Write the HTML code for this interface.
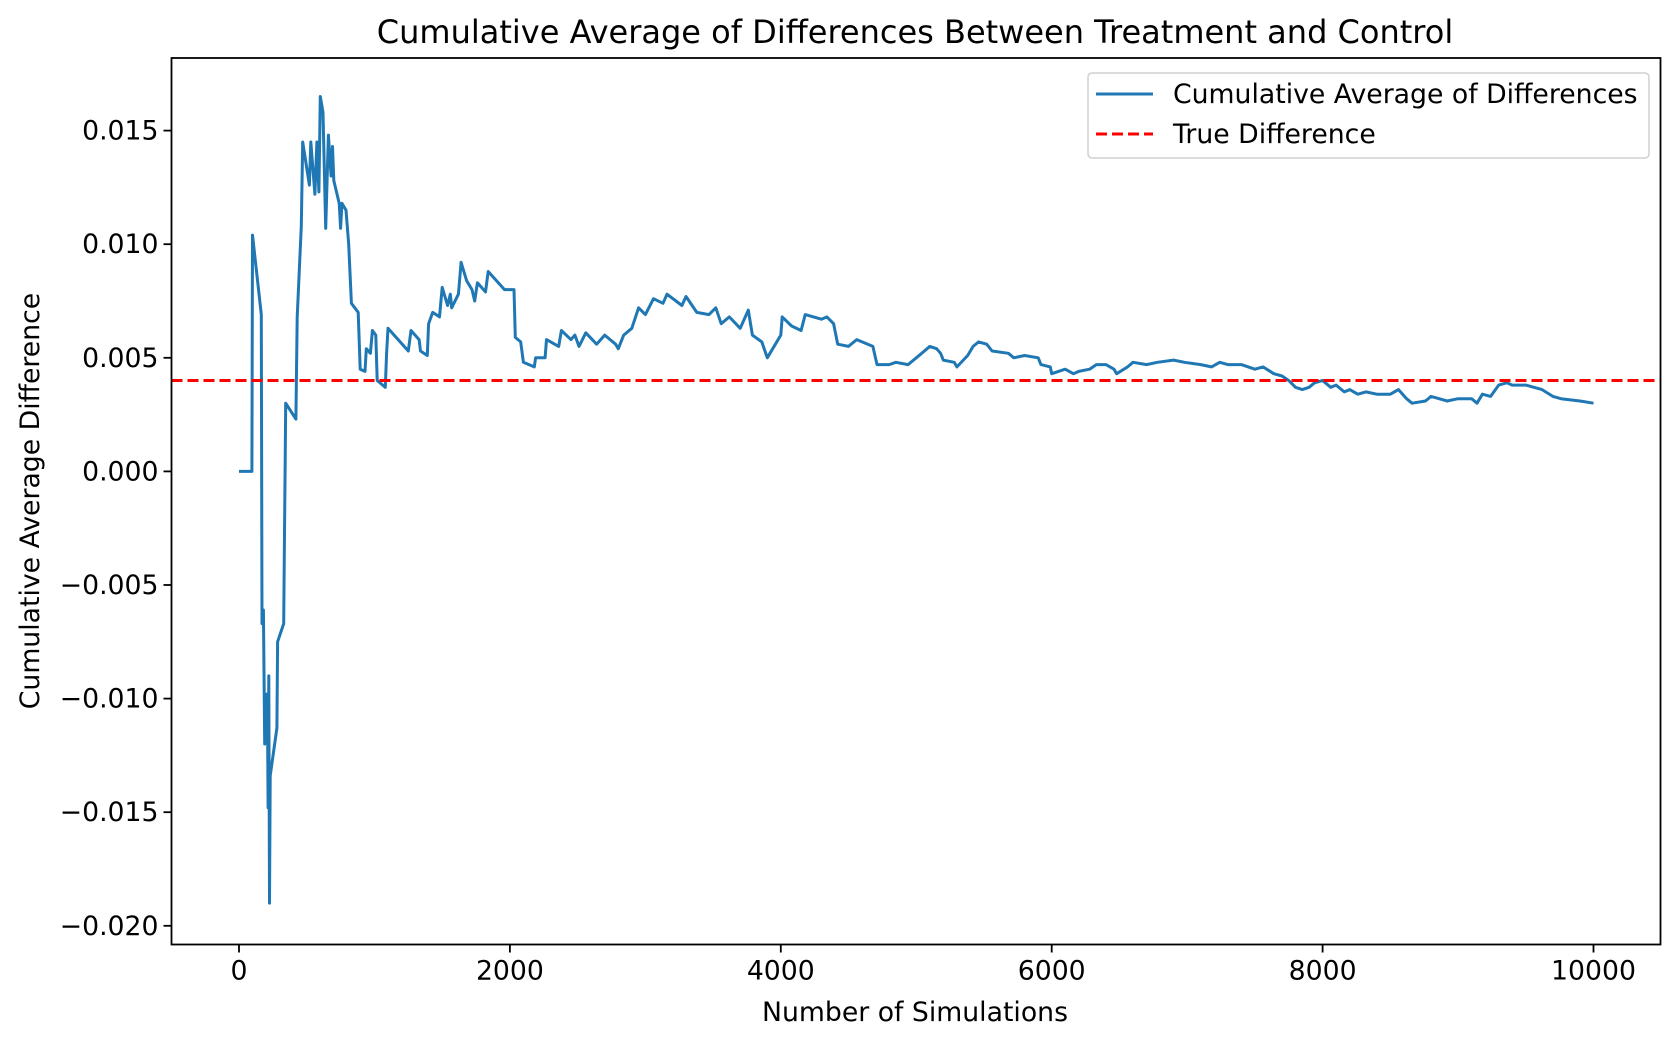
<!DOCTYPE html>
<html><head><meta charset="utf-8"><style>
html,body{margin:0;padding:0;background:#fff}
svg{display:block}
text{font-family:"DejaVu Sans","Liberation Sans",sans-serif;fill:#000}
</style></head><body>
<svg id="chart" width="1680" height="1046" viewBox="0 0 1680 1046">
<rect width="1680" height="1046" fill="#fff"/>
<g id="plot"></g>
<g id="axes"></g>
<text x="915" y="43" font-size="32" text-anchor="middle">Cumulative Average of Differences Between Treatment and Control</text>
<text x="915" y="1021" font-size="26.7" text-anchor="middle">Number of Simulations</text>
<text transform="translate(39,501) rotate(-90)" font-size="26.7" text-anchor="middle">Cumulative Average Difference</text>
<g>
<rect x="1088" y="73" width="561" height="85" rx="4" fill="#fff" stroke="#d0d0d0" stroke-width="1.5"/>
<line x1="1096" y1="94" x2="1153" y2="94" stroke="#1f77b4" stroke-width="3"/>
<text x="1173" y="103" font-size="26.7">Cumulative Average of Differences</text>
<line x1="1096" y1="134" x2="1153" y2="134" stroke="#ff0000" stroke-width="3" stroke-dasharray="11,5"/>
<text x="1173" y="143" font-size="26.7">True Difference</text>
</g>
</svg>
<script>
const xs=[0,95,100,165,170,180,190,205,210,215,220,225,230,280,285,330,335,340,345,420,430,460,470,520,530,560,575,590,600,620,640,660,680,690,700,740,750,760,790,810,830,880,895,930,940,970,985,1010,1020,1080,1090,1100,1250,1270,1330,1340,1390,1400,1430,1480,1500,1540,1560,1570,1620,1640,1680,1700,1720,1740,1760,1820,1840,1960,2030,2040,2080,2100,2180,2190,2260,2270,2360,2380,2450,2480,2510,2560,2640,2700,2780,2800,2840,2900,2950,3000,3060,3130,3160,3270,3300,3380,3470,3520,3560,3620,3700,3760,3790,3860,3900,3960,4000,4010,4080,4150,4180,4300,4340,4390,4420,4500,4560,4680,4710,4800,4850,4940,5000,5040,5100,5150,5180,5200,5280,5300,5380,5420,5460,5520,5560,5680,5720,5800,5900,5920,5990,6000,6100,6160,6200,6280,6330,6400,6460,6480,6560,6600,6700,6780,6900,6980,7100,7180,7240,7300,7400,7500,7560,7640,7700,7750,7800,7850,7900,7940,8000,8060,8100,8160,8200,8260,8320,8400,8500,8560,8620,8660,8760,8800,8860,8920,9000,9100,9140,9180,9240,9300,9360,9400,9500,9560,9620,9700,9760,9900,10000];
const ys=[0,0,0.0104,0.0069,-0.0067,-0.0061,-0.012,-0.0098,-0.0100,-0.0148,-0.0090,-0.019,-0.0134,-0.0113,-0.0075,-0.0067,-0.0032,0.0,0.003,0.0023,0.0068,0.0108,0.0145,0.0126,0.0145,0.0122,0.0145,0.0123,0.0165,0.0158,0.0107,0.0148,0.013,0.0143,0.0128,0.0118,0.0107,0.0118,0.0115,0.0100,0.0074,0.0070,0.0045,0.0044,0.0054,0.0052,0.0062,0.0060,0.0040,0.0037,0.0052,0.0063,0.0053,0.0062,0.0058,0.0053,0.0051,0.0065,0.0070,0.0068,0.0081,0.0073,0.0078,0.0072,0.0078,0.0092,0.0084,0.0082,0.0080,0.0075,0.0083,0.0079,0.0088,0.0080,0.0080,0.0059,0.0057,0.0048,0.0046,0.0050,0.0050,0.0058,0.0055,0.0062,0.0058,0.0060,0.0055,0.0061,0.0056,0.0060,0.0056,0.0054,0.0060,0.0063,0.0072,0.0069,0.0076,0.0074,0.0078,0.0073,0.0077,0.0070,0.0069,0.0072,0.0065,0.0068,0.0063,0.0071,0.0060,0.0057,0.0050,0.0056,0.0060,0.0068,0.0064,0.0062,0.0069,0.0067,0.0068,0.0065,0.0056,0.0055,0.0058,0.0055,0.0047,0.0047,0.0048,0.0047,0.0050,0.0052,0.0055,0.0054,0.0052,0.0049,0.0048,0.0046,0.0051,0.0055,0.0057,0.0056,0.0053,0.0052,0.0050,0.0051,0.0050,0.0047,0.0046,0.0043,0.0045,0.0043,0.0044,0.0045,0.0047,0.0047,0.0045,0.0043,0.0046,0.0048,0.0047,0.0048,0.0049,0.0048,0.0047,0.0046,0.0048,0.0047,0.0047,0.0045,0.0046,0.0043,0.0042,0.0040,0.0037,0.0036,0.0037,0.0039,0.0040,0.0037,0.0038,0.0035,0.0036,0.0034,0.0035,0.0034,0.0034,0.0036,0.0032,0.0030,0.0031,0.0033,0.0032,0.0031,0.0032,0.0032,0.0030,0.0034,0.0033,0.0038,0.0039,0.0038,0.0038,0.0037,0.0036,0.0033,0.0032,0.0031,0.0030];
const trueDiff=[0.004];
const xTicks=[0,2000,4000,6000,8000,10000];
const yTicks=[-0.020,-0.015,-0.010,-0.005,0.000,0.005,0.010,0.015];
const yTickLabels=["\u22120.020","\u22120.015","\u22120.010","\u22120.005","0.000","0.005","0.010","0.015"];

const L=171.5,R=1660.5,T=58,B=944.5;
function sx(v){return 239+(v-0)*(1593.5-239)/10000;}
function sy(v){return 471.4-v*(113.6/0.005);}
const NS="http://www.w3.org/2000/svg";
const plot=document.getElementById('plot'),axes=document.getElementById('axes');
function mk(tag,attrs,parent){const e=document.createElementNS(NS,tag);for(const k in attrs)e.setAttribute(k,attrs[k]);parent.appendChild(e);return e;}

let d='';
for(let i=0;i<xs.length;i++){d+=(i?'L':'M')+sx(xs[i]).toFixed(1)+' '+sy(ys[i]).toFixed(1);}
const line=mk('path',{d:d,fill:'none',stroke:'#1f77b4','stroke-width':3,'stroke-linejoin':'round'},plot);


const hl=mk('line',{x1:L,x2:R,y1:sy(trueDiff[0]),y2:sy(trueDiff[0]),stroke:'#ff0000','stroke-width':3,'stroke-dasharray':'11,5'},plot);



const frame=mk('rect',{x:L,y:T,width:R-L,height:B-T,fill:'none',stroke:'#000','stroke-width':1.8},axes);


xTicks.forEach(v=>{
  const x=sx(v);
  const t=mk('line',{x1:x,x2:x,y1:B,y2:B+8,stroke:'#000','stroke-width':1.8},axes);
  
  
  const lb=mk('text',{x:x,y:B+35,'font-size':26.7,'text-anchor':'middle'},axes);
  lb.textContent=String(v);
  
  
});
yTicks.forEach((v,i)=>{
  const y=sy(v);
  const t=mk('line',{x1:L-8,x2:L,y1:y,y2:y,stroke:'#000','stroke-width':1.8},axes);
  
  
  const lb=mk('text',{x:L-13,y:y+9,'font-size':26.7,'text-anchor':'end'},axes);
  lb.textContent=yTickLabels[i];
  
  
});
</script>
</body></html>
